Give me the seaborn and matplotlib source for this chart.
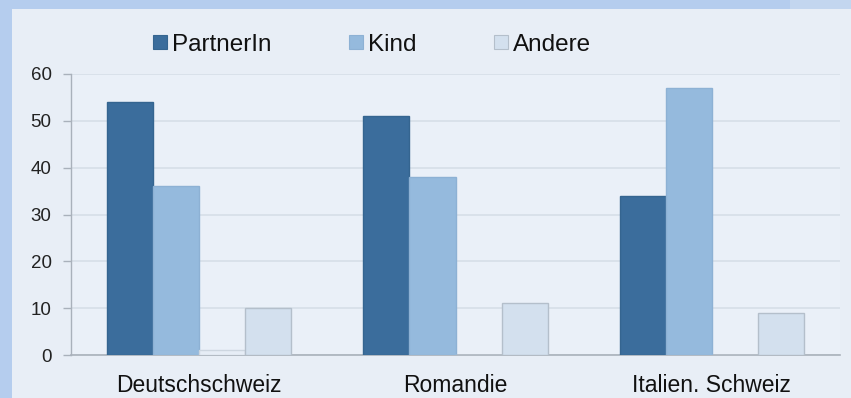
import matplotlib
matplotlib.use("Agg")
import matplotlib.pyplot as plt
import seaborn as sns
import pandas as pd
from matplotlib.patches import Rectangle, Patch

regions = ["Deutschschweiz", "Romandie", "Italien. Schweiz"]
groups = ["PartnerIn", "Kind", "Sonstige", "Andere"]
partnerin = [54, 51, 34]
kind = [36, 38, 57]
sonstige = [1, 0, 0]
andere = [10, 11, 9]
yticks = [0, 10, 20, 30, 40, 50, 60]

colors = {"PartnerIn": "#3b6d9c", "Kind": "#95badd", "Sonstige": "#e6edf6", "Andere": "#d3e0ee"}
edges = {"PartnerIn": "#356590", "Kind": "#8db1d4", "Sonstige": "#cdd6e0", "Andere": "#b4bfcb"}

rows = []
for g, vals in zip(groups, [partnerin, kind, sonstige, andere]):
    for r, v in zip(regions, vals):
        rows.append({"Region": r, "Gruppe": g, "Wert": v})
df = pd.DataFrame(rows)

sns.set_theme(style="white")
plt.rcParams["font.family"] = ["Liberation Sans", "DejaVu Sans"]

fig = plt.figure(figsize=(8.51, 3.98), dpi=100)
fig.patch.set_facecolor("#b5cdee")
# inner panel
fig.patches.append(Rectangle((12/851, 0), 1, 1 - 9/398, transform=fig.transFigure,
                             facecolor="#e8eef6", edgecolor="none", zorder=-5))
fig.patches.append(Rectangle((790/851, 1 - 9/398), 1, 9/398, transform=fig.transFigure,
                             facecolor="#c3d6ef", edgecolor="none", zorder=-5))

ax = fig.add_axes([71/851, 43/398, (840-71)/851, (355-74)/398])
ax.set_facecolor("#eaf0f8")

sns.barplot(data=df, x="Region", y="Wert", hue="Gruppe", hue_order=groups,
            palette=colors, width=0.72, ax=ax, legend=False, saturation=1, zorder=3)

for cont, g in zip(ax.containers, groups):
    for bar in cont:
        bar.set_edgecolor(edges[g])
        bar.set_linewidth(1.0)

ax.set_xlim(-0.5, 2.5)
ax.set_ylim(0, 60)
ax.set_yticks(yticks)
ax.set_xlabel("")
ax.set_ylabel("")
ax.grid(axis="y", color="#d6dee8", linewidth=1.2, zorder=0)
ax.set_axisbelow(True)
for s in ["top", "right"]:
    ax.spines[s].set_visible(False)
ax.spines["left"].set_color("#a9b1bb")
ax.spines["bottom"].set_color("#a9b1bb")
ax.spines["left"].set_linewidth(1.0)
ax.spines["bottom"].set_linewidth(1.2)
ax.tick_params(axis="y", length=5.5, width=1, color="#a9b1bb", pad=8.5, labelsize=13.5, labelcolor="#222222", left=True)
ax.tick_params(axis="x", length=0, pad=13.5, labelsize=16.5, labelcolor="#111111")

handles = [Patch(facecolor=colors[g], edgecolor=edges[g], linewidth=0.8) for g in ["PartnerIn", "Kind", "Andere"]]
leg = fig.legend(handles, ["PartnerIn", "Kind", "Andere"], loc="center left",
                 bbox_to_anchor=(131/851, 1 - 45/398), ncol=3, frameon=False,
                 fontsize=17.5, handlelength=0.58, handleheight=0.5, handletextpad=0.2,
                 columnspacing=3.2)
for t in leg.get_texts():
    t.set_color("#111111")

fig.savefig("out.png", dpi=100, facecolor=fig.get_facecolor())
